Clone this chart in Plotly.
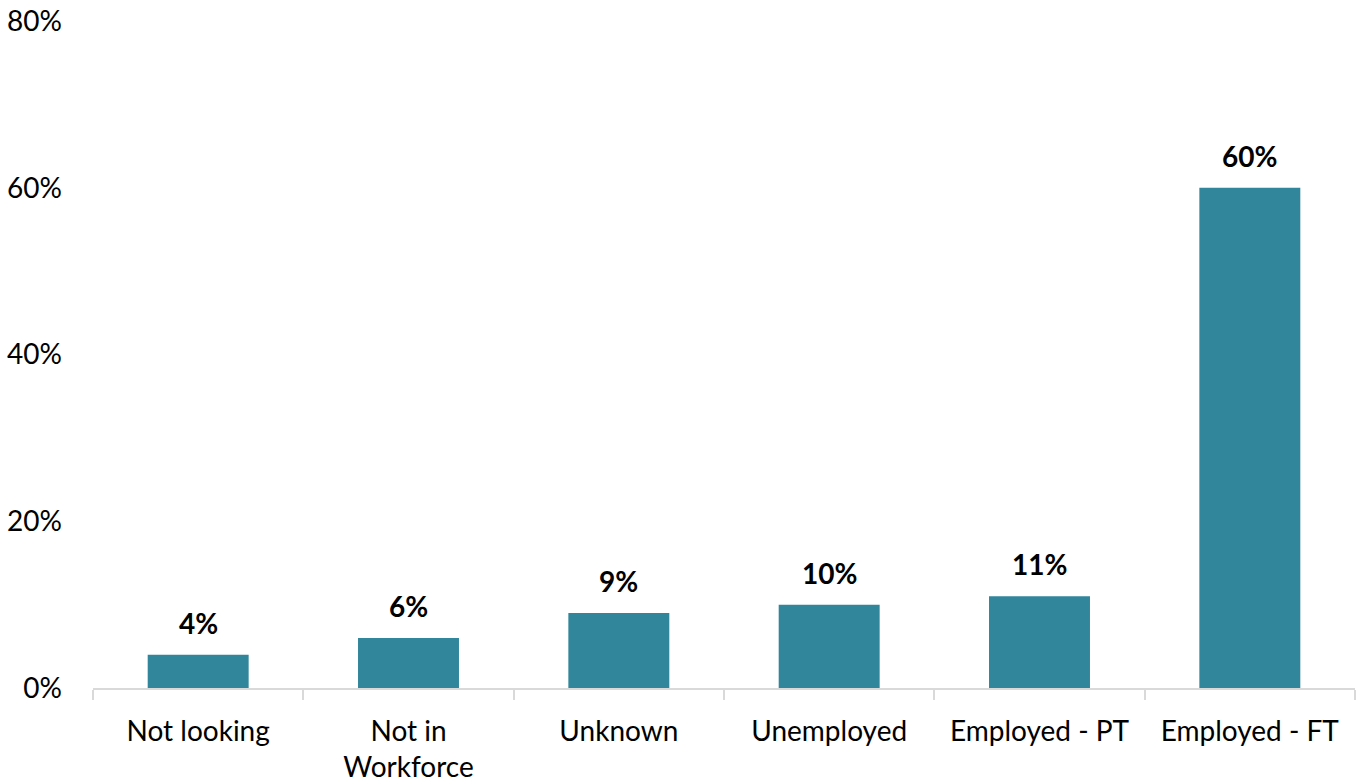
import plotly.graph_objects as go

categories = ["Not looking", "Not in<br>Workforce", "Unknown", "Unemployed", "Employed - PT", "Employed - FT"]
shares = [4, 6, 9, 10, 11, 60]
y_ticks = [0, 20, 40, 60, 80]
y_tick_labels = ["0%", "20%", "40%", "60%", "80%"]

bar_color = "#31869b"
font_family = "Lato, Carlito, Calibri, sans-serif"

fig = go.Figure(
    go.Bar(
        x=categories,
        y=shares,
        marker=dict(color=bar_color, line=dict(width=0)),
        hoverinfo="skip",
    )
)

# value labels above each bar
for cat, val in zip(categories, shares):
    fig.add_annotation(
        x=cat, y=val, text=f"<b>{val}%</b>",
        showarrow=False, yanchor="bottom", yshift=13,
        font=dict(family=font_family, size=28, color="#000000"),
    )

fig.update_layout(
    width=1360, height=784,
    margin=dict(l=93, r=5, t=21, b=96, autoexpand=False),
    paper_bgcolor="white", plot_bgcolor="white",
    bargap=0.52,
    showlegend=False,
    font=dict(family=font_family, size=28, color="#000000"),
)
fig.update_xaxes(
    showline=True, linecolor="#d9d9d9", linewidth=2,
    ticks="outside", tickson="boundaries", ticklen=10, tickcolor="#d9d9d9", tickwidth=2,
    showgrid=False, tickfont=dict(size=28), ticklabelstandoff=17, automargin=False,
)
fig.update_yaxes(
    range=[0, 80], tickvals=y_ticks, ticktext=y_tick_labels,
    showgrid=False, zeroline=False, showline=False, ticks="",
    ticklabelstandoff=30, tickfont=dict(size=28), automargin=False,
)

fig.write_html("out.html")
